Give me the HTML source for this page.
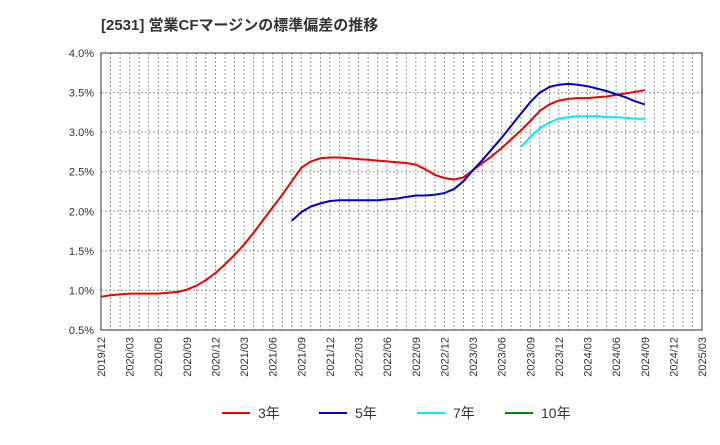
<!DOCTYPE html>
<html><head><meta charset="utf-8"><style>
body{margin:0;background:#fff;font-family:"Liberation Sans","Noto Sans CJK JP",sans-serif;}
</style></head><body>
<svg width="720" height="440" xmlns="http://www.w3.org/2000/svg" font-family="Liberation Sans, Noto Sans CJK JP, sans-serif">
<text x="101" y="30" font-size="15" font-weight="bold" fill="#333">[2531]  営業CFマージンの標準偏差の推移</text>
<g id="grid"></g><g id="axes"></g><g id="series"></g>
<g font-size="14" fill="#333">
<line x1="222" y1="413" x2="250" y2="413" stroke="#e00" stroke-width="2"/><text x="258" y="418">3年</text>
<line x1="319" y1="413" x2="347" y2="413" stroke="#00c" stroke-width="2"/><text x="355" y="418">5年</text>
<line x1="417" y1="413" x2="445" y2="413" stroke="#0ee" stroke-width="2"/><text x="453" y="418">7年</text>
<line x1="505" y1="413" x2="533" y2="413" stroke="#080" stroke-width="2"/><text x="541" y="418">10年</text>
</g>
</svg>
<script>
const yTicks=[0.5,1.0,1.5,2.0,2.5,3.0,3.5,4.0];
const xTickLabels=["2019/12","2020/03","2020/06","2020/09","2020/12","2021/03","2021/06","2021/09","2021/12","2022/03","2022/06","2022/09","2022/12","2023/03","2023/06","2023/09","2023/12","2024/03","2024/06","2024/09","2024/12","2025/03"];
const s3=[.92,.94,.95,.96,.96,.96,.96,.97,.98,1.01,1.06,1.13,1.22,1.33,1.45,1.58,1.73,1.89,2.05,2.21,2.38,2.55,2.63,2.67,2.68,2.68,2.67,2.66,2.65,2.64,2.63,2.62,2.61,2.59,2.53,2.46,2.42,2.40,2.43,2.52,2.61,2.70,2.80,2.91,3.02,3.14,3.27,3.35,3.40,3.42,3.43,3.43,3.44,3.45,3.47,3.49,3.51,3.53];
const s5Start=20;
const s5=[1.88,1.99,2.06,2.10,2.13,2.14,2.14,2.14,2.14,2.14,2.15,2.16,2.18,2.20,2.20,2.21,2.23,2.28,2.38,2.52,2.65,2.79,2.93,3.08,3.23,3.38,3.50,3.57,3.60,3.61,3.60,3.58,3.55,3.52,3.48,3.44,3.39,3.35];
const s7Start=44;
const s7=[2.81,2.94,3.05,3.12,3.17,3.19,3.20,3.20,3.20,3.19,3.19,3.18,3.17,3.17];
const L=101,R=702,T=53,B=330,months=63;
const X=i=>L+(R-L)*i/months;
const Y=v=>B-(v-0.5)/3.5*(B-T);
const NS="http://www.w3.org/2000/svg";
function mk(tag,attrs,parent){const e=document.createElementNS(NS,tag);for(const k in attrs)e.setAttribute(k,attrs[k]);parent.appendChild(e);return e;}
const grid=document.getElementById('grid'),axes=document.getElementById('axes'),ser=document.getElementById('series');
for(let m=1;m<months;m++){const l=mk('line',{x1:X(m),x2:X(m),y1:T,y2:B,stroke:'#999','stroke-dasharray':'2,2','stroke-width':1},grid);

}
yTicks.forEach(v=>{const y=Y(v);
const l=mk('line',{x1:L,x2:R,y1:y,y2:y,stroke:'#999','stroke-dasharray':'2,2','stroke-width':1},grid);


const t=mk('text',{x:94,y:y+4,'text-anchor':'end','font-size':11,fill:'#333'},axes);t.textContent=v.toFixed(1)+'%';

});
xTickLabels.forEach((s,i)=>{const x=X(i*3);
const t=mk('text',{x:0,y:0,transform:`translate(${x+4},337) rotate(-90)`,'text-anchor':'end','font-size':11,fill:'#333'},axes);t.textContent=s;

});
const fr=mk('rect',{x:L,y:T,width:R-L,height:B-T,fill:'none',stroke:'#333','stroke-width':1},axes);


function line(arr,start,color,name){const p=arr.map((v,i)=>`${X(start+i).toFixed(1)},${Y(v).toFixed(1)}`).join(' ');
const e=mk('polyline',{points:p,fill:'none',stroke:color,'stroke-width':2,'stroke-linejoin':'round'},ser);

}
line(s3,0,'#e00','series-3y');
line(s5,s5Start,'#00c','series-5y');
line(s7,s7Start,'#0ee','series-7y');
</script>
</body></html>
